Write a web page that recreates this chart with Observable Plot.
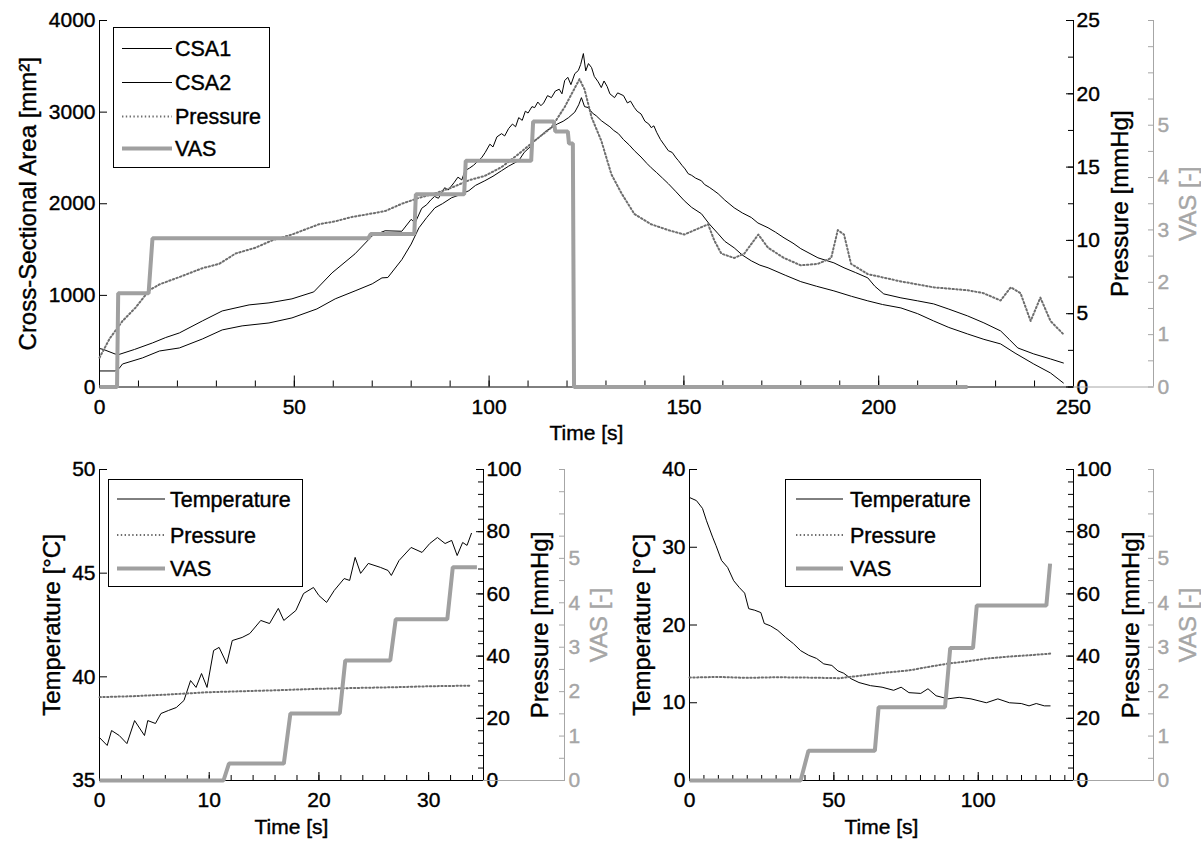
<!DOCTYPE html>
<html><head><meta charset="utf-8">
<script src="https://cdn.jsdelivr.net/npm/d3@7"></script>
<script src="https://cdn.jsdelivr.net/npm/@observablehq/plot@0.6"></script>
<style>
html,body{margin:0;padding:0;background:#fff;overflow:hidden}
#wrap{position:relative;width:1201px;height:846px;background:#fff}
#wrap svg text{stroke:#000;stroke-width:0.4px}
#wrap [fill="#a6a6a6"] text,#wrap text[fill="#a6a6a6"]{stroke:#a6a6a6}
</style></head><body><div id="wrap"></div><script>
// ---------- DATA: top panel (CSA, pressure, VAS vs time) ----------
const csa1T = [0,1,4,5,9,13.6,17,20.5,26.4,31.5,38.4,43.5,49.4,55,59.7,65.6,70,73.3,77.6,80,81,82.7,84,85,86,87,88.6,89.5,91,92,93,93.8,95,96,97,98.1,99,100.2,101,102,103.2,104,105,106,106.8,107.6,108.5,109.3,110,111,111.7,112.5,113.3,114,115,116,117,118,118.7,119.4,120.2,121,122,122.9,123.5,124.2,124.8,125.5,126.3,127,128,128.8,129.5,130.3,131,132.2,133,134.5,135.5,136.3,137.3,138,139,140,141,141.6,142.3,143,144,145,146,147,148,148.6,149.5,150.3,151.1,152,153,154.5,155.3,156.5,157.5,158.8,160.5,162.9,165,167.3,169,171.6,173.5,175.7,178,180,184.4,188.5,191.1,194,197.2,199,201.3,205.7,210,214.1,218,222.8,227,231.3,233.5,235.7,239.8,244.1,247.4];
const csa1 = [420,410,360,355,410,481,540,590,721,830,896,918,962,1038,1246,1454,1650,1705,1700,1830,1790,1950,1990,2040,2080,2060,2175,2150,2230,2290,2260,2360,2390,2420,2460,2503,2560,2650,2620,2730,2765,2740,2820,2870,2840,2940,2910,3010,2990,3060,3049,3110,3070,3100,3180,3158,3230,3250,3200,3344,3380,3300,3420,3454,3520,3639,3450,3530,3486,3390,3330,3268,3340,3280,3200,3158,3210,3180,3100,3120,3049,3010,2980,2900,2870,2831,2850,2780,2700,2640,2579,2560,2500,2470,2420,2380,2328,2310,2280,2251,2210,2180,2150,2109,2040,1956,1900,1850,1790,1738,1690,1628,1570,1510,1410,1355,1301,1250,1191,1100,1016,973,940,907,850,776,700,612,520,426,361,306,262];
const csa2T = [0,4,5,5.9,11,15.4,20.5,26.4,31.5,36.6,43.5,49.4,55.8,60.5,65.6,70,72.5,74,77.6,80,82,84,86.1,88,90.4,92,94.8,96.5,98.9,101,103.2,105,107.6,109,110.5,111.7,113,114.5,116,117.5,119,120.4,122,123,123.7,124.5,125.5,126.5,127.5,128.8,130,131,132,133.2,134.5,136,137.3,139,140.5,141.6,143,144.5,146,148,150.1,152,154.5,156.5,158.8,160.5,162.9,165,167.3,169.5,171.6,176,180,184,188.5,193,197.2,201,205.7,210,214.1,218,222.8,227,231.3,235,239.8,244.1,247.4];
const csa2 = [175,175,200,251,317,393,426,524,623,667,699,754,852,962,1049,1126,1191,1195,1390,1560,1738,1850,1956,2000,2066,2090,2142,2200,2251,2300,2361,2410,2470,2560,2620,2689,2730,2790,2831,2870,2900,2940,3000,3080,3158,3060,3049,2990,2960,2907,2870,2840,2800,2765,2700,2640,2579,2510,2440,2393,2340,2280,2219,2130,2033,1960,1891,1780,1672,1590,1519,1440,1377,1330,1301,1220,1150,1100,1049,990,940,900,863,800,721,650,579,520,470,370,251,153,44];
const presTopT = [0,2.6,5.9,9.2,12.8,15.4,20.5,26.4,30.7,34.9,40,44.3,49.4,56.3,60.5,64.8,69.2,73.3,77.6,82,86.1,90.4,94.8,98.9,103.2,107.6,111.7,116,119.4,122,123.2,124.5,126.3,128.8,131.4,134,137.3,141.6,146,150.1,152.7,156.2,157.8,159.6,162.9,165.5,169.1,171.6,175.7,180,184.4,187.8,189.5,191.1,192.9,197.2,205.7,214.1,222.8,226.9,231.3,233.9,236.4,239,241.5,244.1,247.4];
const presTop = [2.0,3.3,4.5,5.4,6.6,7.0,7.5,8.1,8.4,9.1,9.5,10.0,10.4,11.1,11.3,11.6,11.8,12.0,12.5,12.9,13.2,13.6,14.1,14.4,15.0,15.9,16.8,17.7,19.1,20.4,21.0,20.3,18.4,16.8,14.5,13.2,11.8,11.1,10.7,10.4,10.7,11.1,10.0,9.1,8.8,9.1,10.4,9.5,8.8,8.3,8.4,8.8,10.7,10.4,8.4,7.7,7.2,6.8,6.6,6.4,5.9,6.8,6.4,4.5,6.1,4.5,3.6];
const vasTopT = [0,4.5,4.8,12.6,13.6,69,69.6,80.8,81.2,93.6,94,110.8,111.3,116.6,117,120.2,120.5,121.5,121.8,222.8];
const vasTop = [0,0,1.79,1.79,2.84,2.84,2.92,2.92,3.68,3.68,4.32,4.32,5.07,5.07,4.88,4.88,4.65,4.65,0,0];

// ---------- DATA: bottom-left panel (heating) ----------
const tempBLT = [0,0.7,1.1,1.8,2.5,3.2,4.1,4.4,5.1,5.6,6.3,7.0,7.7,8.3,8.8,9.3,9.8,10.4,10.9,11.6,12.1,13.0,13.7,14.7,15.5,16.3,16.8,17.9,18.6,19.5,20.0,20.7,21.4,22.3,22.8,23.3,23.8,24.5,25.6,26.3,26.6,27.3,28.4,29.4,30.1,30.8,31.5,32.1,32.6,33.1,33.5,33.9];
const tempBL = [37.07,36.69,37.41,37.17,36.78,37.89,37.17,37.89,37.75,38.23,38.38,38.52,38.86,39.82,39.49,40.16,39.49,41.27,41.42,40.64,41.75,41.90,42.09,42.72,42.57,43.30,42.72,43.20,44.02,44.31,43.92,43.59,44.17,44.74,44.65,45.76,44.99,45.47,45.28,45.13,44.89,45.61,46.24,46.00,46.43,46.72,46.43,46.58,45.85,46.48,46.34,46.92];
const presBLT = [0,3,6,10,13,16,20,24,27,30,33.7];
const presBL = [26.8,27.1,27.6,28.4,28.7,29.0,29.5,29.8,30.0,30.3,30.5];
const vasBLT = [0,11.3,11.8,16.8,17.4,21.9,22.4,26.5,27.0,31.7,32.2,34.4];
const vasBL = [0,0,0.38,0.38,1.51,1.51,2.70,2.70,3.63,3.63,4.80,4.80];

// ---------- DATA: bottom-right panel (cooling) ----------
const tempBRT = [0,2.4,4.5,5.9,8.0,9.2,11.1,13.2,15.3,17.3,19.1,20.5,22.6,24.7,25.9,28.0,30.6,33.3,36.0,38.5,41.3,44.0,46.5,49.3,51.4,53.4,55.9,58.7,62.7,66.7,70.7,73.3,76.0,80.1,82.6,85.4,89.5,93.4,97.5,102.8,106.8,110.8,114.9,117.6,120.1,122.9,124.9];
const tempBR = [36.4,36.0,35.0,33.4,31.3,30.2,28.3,27.4,25.7,24.8,24.1,22.1,21.9,21.6,20.2,19.9,19.3,18.4,17.6,16.7,16.1,15.7,15.0,14.8,14.1,13.8,13.1,12.6,12.2,12.0,11.6,12.0,11.3,11.2,11.8,10.9,10.5,10.7,10.5,10.0,10.5,10.0,9.9,9.6,9.9,9.6,9.6];
const presBRT = [0,10,20,30,40,52,60,68,76,82,89.5,96,102.8,110,118,124.9];
const presBR = [33.1,33.3,33.0,33.2,33.1,32.9,33.8,34.7,35.4,36.4,37.6,38.3,39.2,39.8,40.3,40.8];
const vasBRT = [0,38.5,41.2,64.2,65.5,88.5,90.3,98.2,99.5,123.6,124.9];
const vasBR = [0,0,0.67,0.67,1.65,1.65,2.98,2.98,3.94,3.94,4.88];

// ---------- ticks & labels ----------
const topXMajor = [0,50,100,150,200,250], topXMinor = d3.range(0,251,10);
const csaTicks = [0,1000,2000,3000,4000];
const presTopMajor = [0,5,10,15,20,25], presTopMinor = d3.range(0,25.01,2.5);
const vasMajor = [0,1,2,3,4,5], vasMinor = d3.range(0,7.01,0.5);
const blXMajor = [0,10,20,30], blXMinor = d3.range(0,35.01,2);
const brXMajor = [0,50,100], brXMinor = d3.range(0,133,5);
const tempBLTicks = [35,40,45,50], tempBRTicks = [0,10,20,30,40];
const presBotMajor = [0,20,40,60,80,100], presBotMinor = d3.range(0,100.1,4);
const legendTop = ["CSA1","CSA2","Pressure","VAS"];
const legendBot = ["Temperature","Pressure","VAS"];

// ---------- drawing ----------
const W = 1201, H = 846;
const FONT = '"Liberation Sans", Arial, Helvetica, sans-serif';
const G_VAS = "#a0a0a0", G_AX = "#a6a6a6", G_PRES = "#6e6e6e";
const PRES_DASH = "1.4,2.4";
const YLAB = 24;
const wrap = document.getElementById("wrap");
const fmt = d => String(d);

function layer(f, opts) {
  const svg = Plot.plot({
    width: W, height: H,
    marginLeft: f.l, marginRight: W - f.r, marginTop: f.t, marginBottom: H - f.b,
    style: {background: "transparent", fontFamily: FONT, fontSize: "21px", color: "#000", overflow: "visible"},
    ...opts
  });
  svg.style.position = "absolute"; svg.style.left = "0px"; svg.style.top = "0px";
  wrap.appendChild(svg);
}

function panel(c) {
  const f = c.frame;
  layer(f, {
    x: {domain: c.xDomain}, y: {domain: c.yDomain},
    marks: [
      ...c.lines.map(s => Plot.line(s.v, {x: s.t, y: s.v, stroke: "#000", strokeWidth: 1})),
      Plot.ruleX([c.xDomain[0]], {stroke: "#000"}),
      Plot.ruleY([c.yDomain[0]], {stroke: "#000"}),
      Plot.axisX({ticks: c.xMinor, tickSize: c.xMinorLen, dy: -c.xMinorLen, fill: "none", label: null}),
      Plot.axisX({ticks: c.xMajor, tickSize: c.xMajorLen, dy: -c.xMajorLen, fill: "none", label: null}),
      Plot.axisX({ticks: c.xMajor, tickSize: 0, tickPadding: 12, tickFormat: fmt, label: null}),
      Plot.axisY({ticks: c.yTicks, tickSize: 8, dx: 8, fill: "none", label: null}),
      Plot.axisY({ticks: c.yTicks, tickSize: 0, tickPadding: 4, tickFormat: fmt, label: null}),
      Plot.text([c.yLabel], {frameAnchor: "left", textAnchor: "middle", lineAnchor: "middle", rotate: -90, dx: c.yLabelDx, fontSize: YLAB}),
      Plot.text(["Time [s]"], {frameAnchor: "bottom", textAnchor: "middle", lineAnchor: "top", dy: 38.5, fontSize: 21})
    ]
  });
  layer(f, {
    x: {domain: c.xDomain, axis: null}, y: {domain: c.presDomain},
    marks: [
      Plot.line(c.pres.v, {x: c.pres.t, y: c.pres.v, stroke: G_PRES, strokeWidth: 2, strokeDasharray: PRES_DASH}),
      Plot.ruleX([c.xDomain[1]], {stroke: "#000"}),
      Plot.axisY({anchor: "right", ticks: c.presMinor, tickSize: 6, dx: -6, fill: "none", label: null}),
      Plot.axisY({anchor: "right", ticks: c.presMajor, tickSize: 8, dx: -8, fill: "none", label: null}),
      Plot.axisY({anchor: "right", ticks: c.presMajor, tickSize: 0, tickPadding: 3, tickFormat: fmt, label: null}),
      Plot.text(["Pressure [mmHg]"], {frameAnchor: "right", textAnchor: "middle", lineAnchor: "middle", rotate: -90, dx: c.presLabelDx, fontSize: YLAB})
    ]
  });
  layer(f, {
    x: {domain: c.xDomain, axis: null}, y: {domain: [0, 7], axis: null},
    marks: [
      Plot.line(c.vas.v, {x: c.vas.t, y: c.vas.v, stroke: G_VAS, strokeWidth: 4, strokeLinecap: "butt", strokeLinejoin: "miter"})
    ]
  });
  layer({l: f.r, r: c.vasX, t: f.t, b: f.b}, {
    x: {domain: [0, 1], axis: null}, y: {domain: [0, 7]},
    marks: [
      Plot.ruleX([1], {stroke: G_AX}),
      Plot.ruleY([0], {stroke: G_AX}),
      Plot.axisY({anchor: "right", ticks: vasMinor, tickSize: 6, dx: -6, fill: "none", color: G_AX, stroke: G_AX, label: null}),
      Plot.axisY({anchor: "right", ticks: vasMajor, tickSize: 0, tickPadding: 4, tickFormat: fmt, color: G_AX, label: null}),
      Plot.text(["VAS [-]"], {frameAnchor: "right", textAnchor: "middle", lineAnchor: "middle", rotate: -90, dx: 35, fill: G_AX, fontSize: YLAB})
    ]
  });
}

function legend(box, labels, styles, sx1, sx2, tx, rows) {
  const svg = d3.create("svg").attr("width", W).attr("height", H)
    .style("position", "absolute").style("left", "0px").style("top", "0px")
    .style("font-family", FONT).style("font-size", "21.5px");
  svg.append("rect").attr("x", box.l + 0.5).attr("y", box.t + 0.5)
    .attr("width", box.r - box.l).attr("height", box.b - box.t)
    .attr("fill", "#fff").attr("stroke", "#000").attr("stroke-width", 1);
  labels.forEach((lab, i) => {
    const s = styles[i];
    svg.append("line").attr("x1", sx1).attr("x2", sx2).attr("y1", rows[i]).attr("y2", rows[i])
      .attr("stroke", s.stroke).attr("stroke-width", s.width).attr("stroke-dasharray", s.dash || null);
    svg.append("text").attr("x", tx).attr("y", rows[i]).attr("dy", "0.36em").attr("fill", "#000").text(lab);
  });
  wrap.appendChild(svg.node());
}
const stBlack = {stroke: "#000", width: 1}, stPres = {stroke: G_PRES, width: 2, dash: PRES_DASH}, stVas = {stroke: G_VAS, width: 4};

panel({
  frame: {l: 99, r: 1073, t: 20, b: 386.5}, vasX: 1153,
  xDomain: [0, 250], xMajor: topXMajor, xMinor: topXMinor, xMajorLen: 11, xMinorLen: 6,
  yDomain: [0, 4000], yTicks: csaTicks, yLabel: "Cross-Sectional Area [mm²]", yLabelDx: -71,
  lines: [{t: csa1T, v: csa1}, {t: csa2T, v: csa2}],
  presDomain: [0, 25], presMajor: presTopMajor, presMinor: presTopMinor, presLabelDx: 47,
  pres: {t: presTopT, v: presTop}, vas: {t: vasTopT, v: vasTop}
});
panel({
  frame: {l: 99, r: 483, t: 469, b: 780}, vasX: 564,
  xDomain: [0, 35], xMajor: blXMajor, xMinor: blXMinor, xMajorLen: 8, xMinorLen: 5,
  yDomain: [35, 50], yTicks: tempBLTicks, yLabel: "Temperature [°C]", yLabelDx: -47,
  lines: [{t: tempBLT, v: tempBL}],
  presDomain: [0, 100], presMajor: presBotMajor, presMinor: presBotMinor, presLabelDx: 57,
  pres: {t: presBLT, v: presBL}, vas: {t: vasBLT, v: vasBL}
});
panel({
  frame: {l: 689, r: 1073, t: 469, b: 780}, vasX: 1153,
  xDomain: [0, 133], xMajor: brXMajor, xMinor: brXMinor, xMajorLen: 8, xMinorLen: 5,
  yDomain: [0, 40], yTicks: tempBRTicks, yLabel: "Temperature [°C]", yLabelDx: -47,
  lines: [{t: tempBRT, v: tempBR}],
  presDomain: [0, 100], presMajor: presBotMajor, presMinor: presBotMinor, presLabelDx: 58,
  pres: {t: presBRT, v: presBR}, vas: {t: vasBRT, v: vasBR}
});

legend({l: 113, r: 269, t: 27, b: 167}, legendTop, [stBlack, stBlack, stPres, stVas], 122, 172, 175, [48.5, 82.5, 116.5, 148.5]);
legend({l: 108, r: 302, t: 479, b: 586}, legendBot, [stBlack, stPres, stVas], 117, 165, 170, [499, 535, 568.5]);
legend({l: 785, r: 980, t: 479, b: 586}, legendBot, [stBlack, stPres, stVas], 796, 843, 850, [499, 535, 568.5]);
</script></body></html>
